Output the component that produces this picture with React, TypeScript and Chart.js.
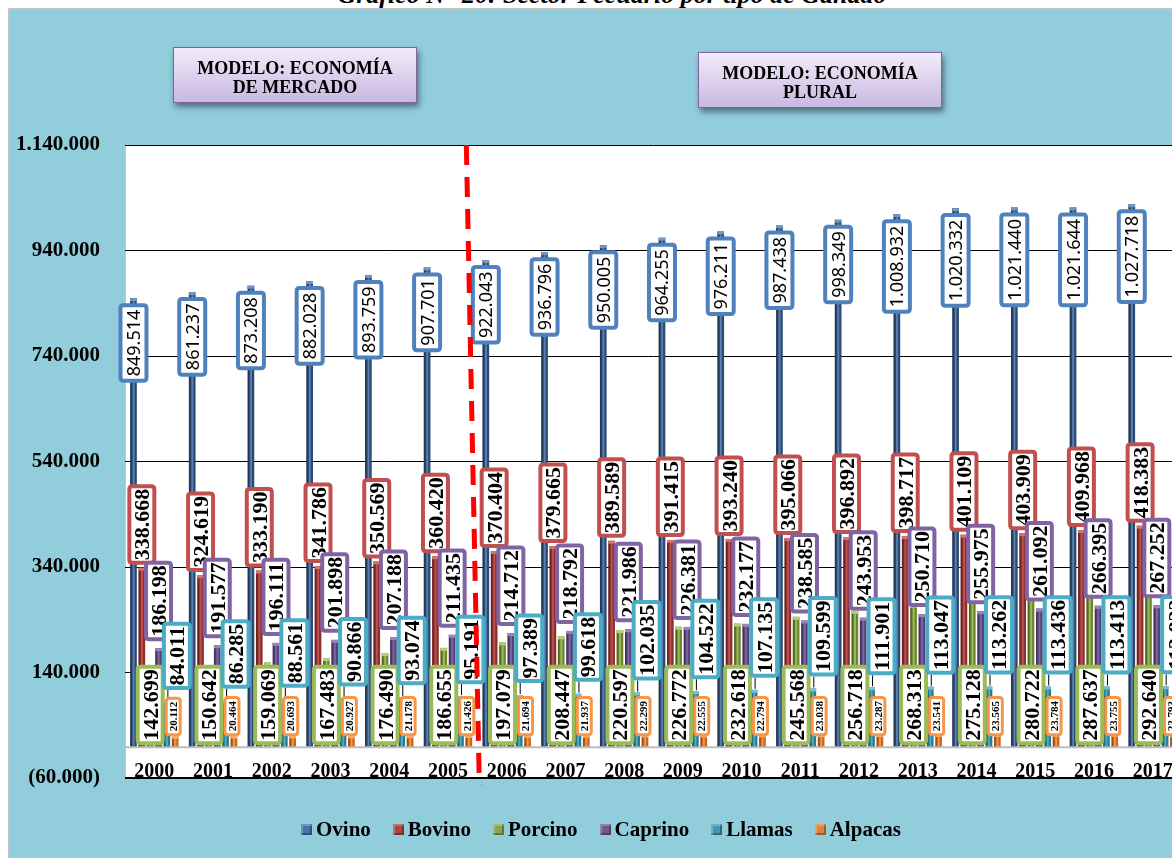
import React, { useEffect, useRef } from 'react';
import { Chart, registerables } from 'chart.js';

Chart.register(...registerables);

// ---------- DATA ----------
const YEARS = ['2000', '2001', '2002', '2003', '2004', '2005', '2006', '2007', '2008', '2009', '2010', '2011', '2012', '2013', '2014', '2015', '2016', '2017'];
const SERIES = ['Ovino', 'Bovino', 'Porcino', 'Caprino', 'Llamas', 'Alpacas'];

const OVINO = [849514, 861237, 873208, 882028, 893759, 907701, 922043, 936796, 950005, 964255, 976211, 987438, 998349, 1008932, 1020332, 1021440, 1021644, 1027718];
const BOVINO = [338668, 324619, 333190, 341786, 350569, 360420, 370404, 379665, 389589, 391415, 393240, 395066, 396892, 398717, 401109, 403909, 409968, 418383];
const PORCINO = [142699, 150642, 159069, 167483, 176490, 186655, 197079, 208447, 220597, 226772, 232618, 245568, 256718, 268313, 275128, 280722, 287637, 292640];
const CAPRINO = [186198, 191577, 196111, 201898, 207188, 211435, 214712, 218792, 221986, 226381, 232177, 238585, 243953, 250710, 255975, 261092, 266395, 267252];
const LLAMAS = [84011, 86285, 88561, 90866, 93074, 95191, 97389, 99618, 102035, 104522, 107135, 109599, 111901, 113047, 113262, 113436, 113413, 113822];
const ALPACAS = [20112, 20464, 20693, 20927, 21178, 21426, 21694, 21937, 22299, 22555, 22794, 23038, 23287, 23541, 23565, 23784, 23755, 22793];

const SERIES_VALUES = [OVINO, BOVINO, PORCINO, CAPRINO, LLAMAS, ALPACAS];

const Y_MIN = -60000;
const Y_MAX = 1140000;
const Y_STEP = 200000;

// boundary between the two economic models (index of last year of first model)
const MODEL_SPLIT_AFTER = 5;

const TITLE = 'Gráfico N° 20: Sector Pecuario por tipo de Ganado';
const MODEL_1 = ['MODELO: ECONOMÍA', 'DE MERCADO'];
const MODEL_2 = ['MODELO: ECONOMÍA', 'PLURAL'];

// ---------- STYLES ----------
const BAR_COLORS = ['#2B4A72', '#8A2F2C', '#6B8530', '#57437A', '#2A7A90', '#C8661A'];
const BAR_HIGHLIGHT = ['#5A7FB0', '#C0504D', '#9BBB59', '#8064A2', '#4BACC6', '#F79646'];
const BAR_CAP = ['#7096C6', '#D4736F', '#B5D07A', '#9C84BA', '#72C2D6', '#F9AE70'];
const BOX_BORDER = ['#4F81BD', '#C0504D', '#9BBB59', '#8064A2', '#4BACC6', '#F79646'];
const LEGEND_COLORS = ['#4572A7', '#AA4643', '#89A54E', '#71588F', '#4198AF', '#DB843D'];

const SERIF = '"Liberation Serif", "Times New Roman", serif';

type BoxStyle = {
  font: string;
  padLen: number;
  width: number;
  bw: number;
  anchor: 'insideEnd' | 'outsideEnd' | 'base';
  dy: number;
  dx: number;
  capH: number;
};

const BOX_STYLES: BoxStyle[] = [
  { font: '18px "Noto Sans", sans-serif', padLen: 13, width: 30, bw: 4, anchor: 'insideEnd', dy: 5, dx: 0, capH: 13 },
  { font: `bold 22px ${SERIF}`, padLen: 9, width: 29, bw: 4, anchor: 'outsideEnd', dy: 3, dx: 0, capH: 15 },
  { font: `bold 22px ${SERIF}`, padLen: 9, width: 29, bw: 4, anchor: 'base', dy: 1, dx: 0, capH: 15 },
  { font: `bold 22px ${SERIF}`, padLen: 9, width: 29, bw: 4, anchor: 'outsideEnd', dy: 7, dx: 0, capH: 15 },
  { font: `bold 22px ${SERIF}`, padLen: 9, width: 30, bw: 4, anchor: 'outsideEnd', dy: 12, dx: 10, capH: 15 },
  { font: `bold 11px ${SERIF}`, padLen: 10, width: 17, bw: 3, anchor: 'base', dy: 10, dx: -2, capH: 7.5 },
];

const fmtThousands = (n: number) => {
  const s = Math.round(Math.abs(n)).toString().replace(/\B(?=(\d{3})+(?!\d))/g, '.');
  return n < 0 ? `(${s})` : s;
};

function roundRectPath(ctx: CanvasRenderingContext2D, x: number, y: number, w: number, h: number, r: number) {
  ctx.beginPath();
  ctx.moveTo(x + r, y);
  ctx.lineTo(x + w - r, y);
  ctx.quadraticCurveTo(x + w, y, x + w, y + r);
  ctx.lineTo(x + w, y + h - r);
  ctx.quadraticCurveTo(x + w, y + h, x + w - r, y + h);
  ctx.lineTo(x + r, y + h);
  ctx.quadraticCurveTo(x, y + h, x, y + h - r);
  ctx.lineTo(x, y + r);
  ctx.quadraticCurveTo(x, y, x + r, y);
  ctx.closePath();
}

const plotBackground = {
  id: 'plotBackground',
  beforeDraw(chart: any) {
    const { ctx, chartArea } = chart;
    ctx.save();
    ctx.fillStyle = '#FFFFFF';
    ctx.fillRect(chartArea.left, chartArea.top, chartArea.right - chartArea.left, chartArea.bottom - chartArea.top);
    ctx.strokeStyle = '#C8C8C8';
    ctx.lineWidth = 1;
    ctx.beginPath();
    ctx.moveTo(chartArea.left + 0.5, chartArea.top);
    ctx.lineTo(chartArea.left + 0.5, chartArea.bottom);
    ctx.stroke();
    ctx.restore();
  },
  beforeDatasetsDraw(chart: any) {
    const { ctx, chartArea } = chart;
    const zeroY = chart.scales.y.getPixelForValue(0);
    ctx.save();
    ctx.strokeStyle = '#BDBDBD';
    ctx.lineWidth = 2;
    ctx.beginPath();
    ctx.moveTo(chartArea.left, zeroY + 1);
    ctx.lineTo(chartArea.right, zeroY + 1);
    ctx.stroke();
    ctx.restore();
  },
};

const overlays = {
  id: 'overlays',
  afterDatasetsDraw(chart: any) {
    const { ctx, chartArea } = chart;
    const yScale = chart.scales.y;
    const xScale = chart.scales.x;
    const zeroY = yScale.getPixelForValue(0);

    // 3D-ish shading of bars
    chart.data.datasets.forEach((_ds: any, di: number) => {
      const meta = chart.getDatasetMeta(di);
      meta.data.forEach((bar: any) => {
        const { x, y, base, width } = bar.getProps(['x', 'y', 'base', 'width'], true);
        ctx.save();
        ctx.fillStyle = 'rgba(0,0,0,0.25)';
        ctx.fillRect(x - width / 2, y, width * 0.22, base - y);
        ctx.fillStyle = BAR_HIGHLIGHT[di];
        ctx.fillRect(x - width * 0.12, y + 3, width * 0.28, base - y - 3);
        ctx.fillStyle = BAR_CAP[di];
        ctx.fillRect(x - width / 2, y, width, 3);
        ctx.restore();
      });
    });

    // value boxes
    chart.data.datasets.forEach((ds: any, di: number) => {
      const meta = chart.getDatasetMeta(di);
      const st = BOX_STYLES[di];
      meta.data.forEach((bar: any, i: number) => {
        const v = ds.data[i] as number;
        const text = fmtThousands(v);
        const { x, y } = bar.getProps(['x', 'y'], true);
        ctx.save();
        ctx.font = st.font;
        const tw = ctx.measureText(text).width;
        const h = tw + st.padLen;
        const w = st.width;
        const cx = x + st.dx;
        let top: number;
        if (st.anchor === 'insideEnd') top = y + st.dy;
        else if (st.anchor === 'outsideEnd') top = y - st.dy - h;
        else top = zeroY - st.dy - h;

        if (di === 4) {
          ctx.strokeStyle = '#000';
          ctx.lineWidth = 1;
          ctx.beginPath();
          ctx.moveTo(x + 1, y - 1);
          ctx.lineTo(cx - w / 2 + 6, top + h);
          ctx.stroke();
        }

        const lw = st.bw;
        roundRectPath(ctx, cx - w / 2 + lw / 2, top + lw / 2, w - lw, h - lw, 3);
        ctx.fillStyle = '#FFFFFF';
        ctx.fill();
        ctx.strokeStyle = BOX_BORDER[di];
        ctx.lineWidth = lw;
        ctx.stroke();

        ctx.translate(cx, top + h / 2);
        ctx.rotate(-Math.PI / 2);
        ctx.fillStyle = '#000';
        ctx.textAlign = 'center';
        ctx.textBaseline = 'alphabetic';
        ctx.fillText(text, 0, st.capH / 2);
        ctx.restore();
      });
    });

    // category labels inside the plot area, above the bottom axis line
    ctx.save();
    ctx.font = `bold 20px ${SERIF}`;
    ctx.fillStyle = '#000';
    ctx.textAlign = 'center';
    ctx.textBaseline = 'alphabetic';
    chart.data.labels.forEach((lab: string, i: number) => {
      ctx.fillText(lab, xScale.getPixelForValue(i), chartArea.bottom - 1);
    });
    ctx.restore();
  },
  afterDraw(chart: any) {
    const { ctx, chartArea } = chart;
    const xScale = chart.scales.x;
    const b = (xScale.getPixelForValue(MODEL_SPLIT_AFTER) + xScale.getPixelForValue(MODEL_SPLIT_AFTER + 1)) / 2;
    ctx.save();
    ctx.strokeStyle = '#FF0000';
    ctx.lineWidth = 5;
    ctx.setLineDash([20, 12]);
    ctx.beginPath();
    ctx.moveTo(b - 11, chartArea.top);
    ctx.lineTo(b + 2, chartArea.bottom + 7);
    ctx.stroke();
    ctx.restore();
  },
};

export default function App() {
  const canvasRef = useRef<HTMLCanvasElement>(null);

  useEffect(() => {
    if (!canvasRef.current) return;
    const chart = new Chart(canvasRef.current, {
      type: 'bar',
      data: {
        labels: YEARS,
        datasets: SERIES.map((name, i) => ({
          label: name,
          data: SERIES_VALUES[i],
          backgroundColor: BAR_COLORS[i],
          borderWidth: 0,
          categoryPercentage: 0.853,
          barPercentage: 0.8,
        })),
      },
      options: {
        responsive: false,
        devicePixelRatio: 1,
        animation: false,
        events: [],
        layout: { padding: { top: 135, right: 8, bottom: 80, left: 0 } },
        plugins: {
          legend: { display: false },
          tooltip: { enabled: false },
          title: { display: false },
        },
        scales: {
          x: {
            display: false,
            grid: { display: false },
          },
          y: {
            min: Y_MIN,
            max: Y_MAX,
            afterFit: (scale: any) => {
              scale.width = 115;
            },
            border: { display: false },
            grid: {
              color: '#000000',
              lineWidth: (c: any) => (c.tick && c.tick.value === Y_MIN ? 2 : 1),
              drawTicks: false,
            },
            ticks: {
              stepSize: Y_STEP,
              padding: 25,
              color: '#000000',
              font: { family: SERIF, size: 21, weight: 'bold' },
              callback: (v: any) => fmtThousands(Number(v)),
            },
          },
        },
      },
      plugins: [plotBackground, overlays],
    } as any);
    return () => chart.destroy();
  }, []);

  const modelBox = (left: number, top: number, lines: string[]) => (
    <div
      style={{
        position: 'absolute',
        left,
        top,
        width: 244,
        height: 56,
        boxSizing: 'border-box',
        border: '1.5px solid #8064A2',
        background: 'linear-gradient(#F1ECF9, #C9B8E0)',
        boxShadow: '2px 4px 6px rgba(0,0,0,0.45)',
        textAlign: 'center',
        font: `bold 18px ${SERIF}`,
        lineHeight: '19px',
        paddingTop: 11,
        color: '#000',
      }}
    >
      {lines.map((l, i) => (
        <div key={i}>{l}</div>
      ))}
    </div>
  );

  return (
    <div style={{ position: 'fixed', left: 0, top: 0, width: 1172, height: 858, overflow: 'hidden', background: '#FFFFFF' }}>
      <div
        style={{
          position: 'absolute',
          left: 0,
          top: -18,
          width: 1224,
          textAlign: 'center',
          font: `italic bold 26px ${SERIF}`,
          lineHeight: '26px',
          color: '#000',
          whiteSpace: 'nowrap',
        }}
      >
        {TITLE}
      </div>
      <div
        style={{
          position: 'absolute',
          left: 8,
          top: 8,
          width: 1300,
          height: 900,
          background: '#92CDDC',
          borderTop: '2px solid #C4C4C4',
          borderLeft: '2px solid #C4C4C4',
        }}
      >
        <canvas
          ref={canvasRef}
          width={1180}
          height={848}
          style={{ position: 'absolute', left: 0, top: 0, width: 1180, height: 848 }}
        />
        {modelBox(163, 37, MODEL_1)}
        {modelBox(688, 42, MODEL_2)}
        <div
          style={{
            position: 'absolute',
            left: 291,
            top: 807,
            display: 'flex',
            gap: 22,
            font: `bold 21px ${SERIF}`,
            lineHeight: '24px',
            color: '#000',
            whiteSpace: 'nowrap',
          }}
        >
          {SERIES.map((s, i) => (
            <span key={s} style={{ display: 'flex', alignItems: 'center' }}>
              <span
                style={{
                  display: 'inline-block',
                  width: 11,
                  height: 11,
                  marginRight: 4,
                  background: LEGEND_COLORS[i],
                  boxShadow: 'inset 2px 2px 0 rgba(255,255,255,0.25), inset -2px -2px 0 rgba(0,0,0,0.3)',
                }}
              />
              {s}
            </span>
          ))}
        </div>
      </div>
    </div>
  );
}
